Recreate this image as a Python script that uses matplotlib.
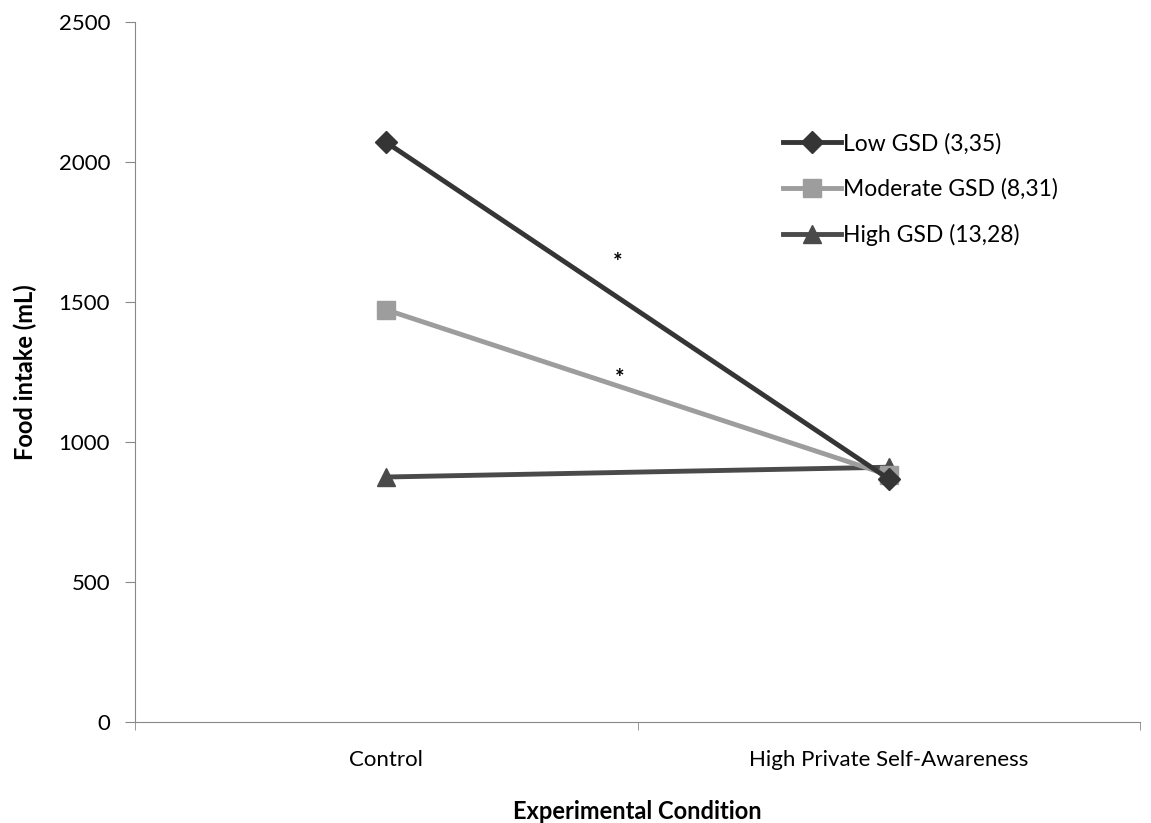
# Food intake by experimental condition, split by GSD group

import matplotlib
matplotlib.use('Agg')
import matplotlib.pyplot as plt

plt.rcParams['font.family'] = ['Lato', 'DejaVu Sans']

conditions = ['Control', 'High Private Self-Awareness']
low_gsd = [2070, 868]
moderate_gsd = [1472, 882]
high_gsd = [875, 910]
series_labels = ['Low GSD (3,35)', 'Moderate GSD (8,31)', 'High GSD (13,28)']
star_pos = [(0.46, 1640), (0.465, 1225)]

fig = plt.figure(figsize=(11.51, 8.23), dpi=100)
ax = fig.add_axes([0.1173, 0.1227, 0.8732, 0.8506])

x = list(range(len(conditions)))
ax.plot(x, low_gsd, color='#353535', lw=3.5, marker='D', ms=11, label=series_labels[0], zorder=3)
ax.plot(x, moderate_gsd, color='#9d9d9d', lw=3.5, marker='s', ms=13, label=series_labels[1], zorder=2)
ax.plot(x, high_gsd, color='#4a4a4a', lw=3.5, marker='^', ms=13, label=series_labels[2], zorder=1)

for sx, sy in star_pos:
    ax.text(sx, sy, '*', ha='center', va='center', fontsize=16, fontweight='bold')

ax.set_xlim(-0.5, 1.5)
ax.set_ylim(0, 2500)
ax.set_yticks([0, 500, 1000, 1500, 2000, 2500])
ax.set_xticks(x)
ax.set_xticklabels(conditions)
ax.set_xticks([-0.5, 0.5, 1.5], minor=True)
ax.tick_params(axis='x', which='major', length=0, pad=20, labelsize=16)
ax.tick_params(axis='x', which='minor', length=6, color='#888888')
ax.tick_params(axis='y', length=7, color='#888888', labelsize=16, pad=11)

for side in ['top', 'right']:
    ax.spines[side].set_visible(False)
ax.spines['left'].set_color('#888888')
ax.spines['bottom'].set_color('#888888')

ax.set_ylabel('Food intake (mL)', fontsize=17, fontweight='bold')
ax.yaxis.set_label_coords(-0.0975, 0.5)
ax.set_xlabel('Experimental Condition', fontsize=17, fontweight='bold', labelpad=22)

ax.legend(loc='upper left', bbox_to_anchor=(0.645, 0.842), frameon=False, fontsize=16.5,
          borderpad=0, borderaxespad=0, handlelength=2.5, handletextpad=0.1,
          labelspacing=1.05)

fig.savefig('out.png', dpi=100)
